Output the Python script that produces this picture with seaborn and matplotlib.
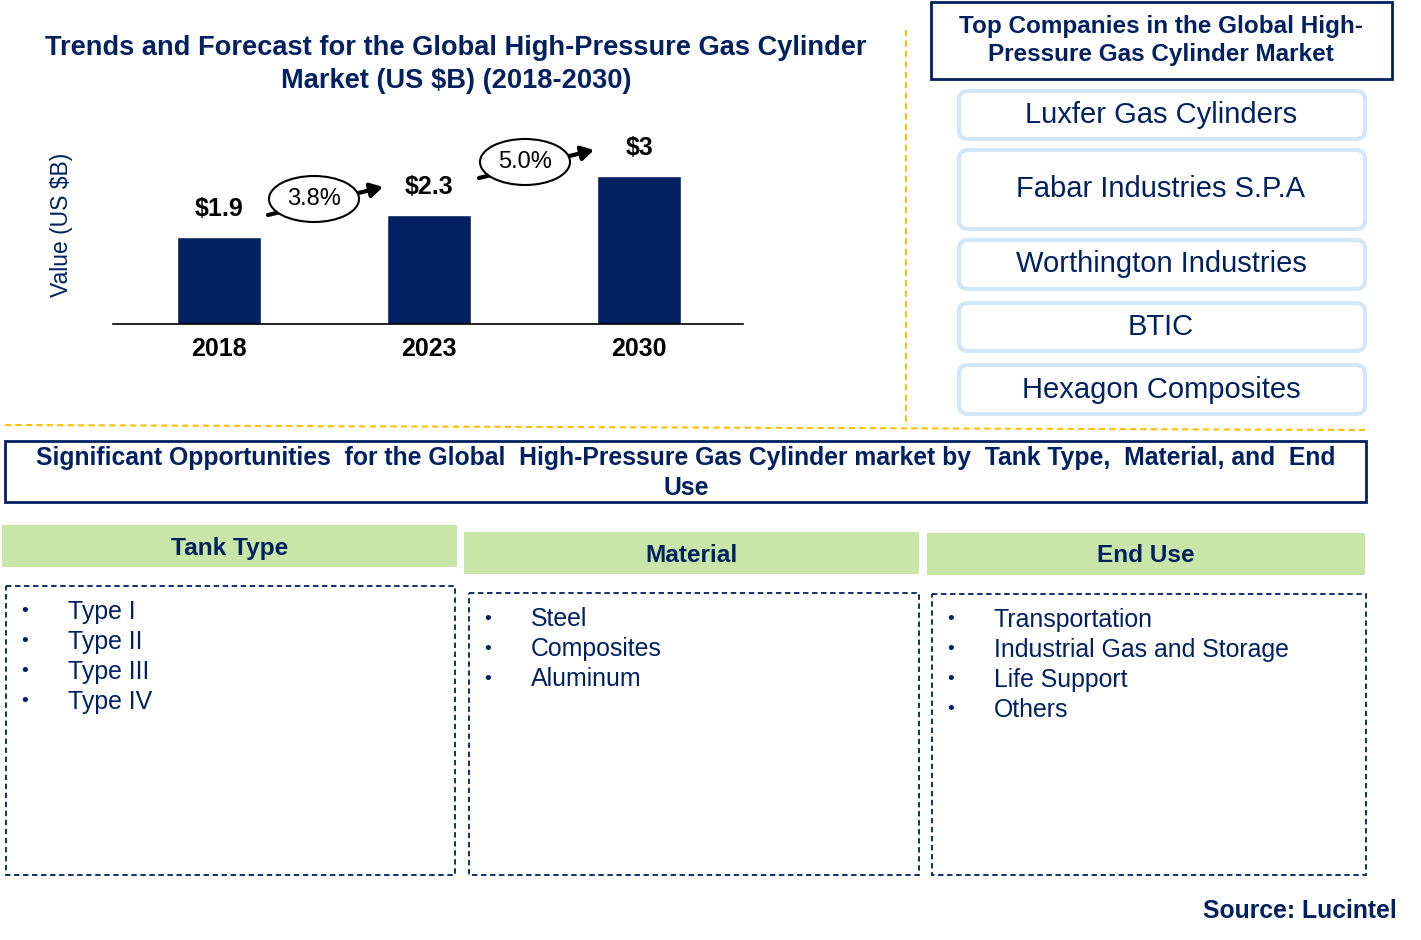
import matplotlib
matplotlib.use("Agg")
import matplotlib.pyplot as plt
import seaborn as sns
import pandas as pd
from matplotlib.patches import Rectangle, FancyBboxPatch, Ellipse

# ----- Data ----- #
years = ["2018", "2023", "2030"]
values = [1.9, 2.3, 3.0]
value_labels = ["$1.9", "$2.3", "$3"]
cagr_labels = ["3.8%", "5.0%"]

companies = ["Luxfer Gas Cylinders", "Fabar Industries S.P.A", "Worthington Industries",
             "BTIC", "Hexagon Composites"]
segment_titles = ["Tank Type", "Material", "End Use"]
tank_types = ["Type I", "Type II", "Type III", "Type IV"]
materials = ["Steel", "Composites", "Aluminum"]
end_uses = ["Transportation", "Industrial Gas and Storage", "Life Support", "Others"]

NAVY = "#002060"
BAR = "#002060"
GOLD = "#FFC000"
GREEN = "#C9E6A9"
LIGHTBLUE = "#D2E7F7"

sns.set_theme(style="white")
plt.rcParams["font.family"] = ["Liberation Sans", "DejaVu Sans"]

W, H = 1421, 940
fig = plt.figure(figsize=(W / 100, H / 100), dpi=100)

# ----- Bar chart ----- #
def px_axes(x0, y0, x1, y1):
    return [x0 / W, 1 - y1 / H, (x1 - x0) / W, (y1 - y0) / H]

ax = fig.add_axes(px_axes(113, 130, 743, 324))
df = pd.DataFrame({"Year": years, "Value": values})
sns.barplot(data=df, x="Year", y="Value", color=BAR, width=0.4, saturation=1, ax=ax)
ax.set_xlim(-0.505, 2.495)
ax.set_ylim(0.35, 3.82)
for s in ["top", "right", "left"]:
    ax.spines[s].set_visible(False)
ax.spines["bottom"].set_color("black")
ax.spines["bottom"].set_linewidth(1.2)
ax.set_yticks([])
ax.set_xlabel("")
ax.tick_params(axis="x", length=0, pad=9)
for lab in ax.get_xticklabels():
    lab.set_fontsize(18)
    lab.set_fontweight("bold")
    lab.set_color("black")
ax.set_ylabel("Value (US $B)", fontsize=16.5, color=NAVY)
ax.yaxis.set_label_coords(-0.063, 0.51)
for i, (v, lab) in enumerate(zip(values, value_labels)):
    ax.annotate(lab, (i, v), xytext=(0, 28), textcoords="offset pixels",
                ha="center", va="center", fontsize=18, fontweight="bold", color="black")

# ----- Overlay for the layout ----- #
ov = fig.add_axes([0, 0, 1, 1], zorder=5)
ov.set_xlim(0, W)
ov.set_ylim(H, 0)
ov.axis("off")

# title
ov.text(456, 48, "Trends and Forecast for the Global High-Pressure Gas Cylinder",
        ha="center", va="center", fontsize=19.6, fontweight="bold", color=NAVY)
ov.text(456, 81, "Market (US $B) (2018-2030)",
        ha="center", va="center", fontsize=19.6, fontweight="bold", color=NAVY)

# CAGR bubbles with arrows
bubbles = [((314, 199), (268, 215), (383, 187)), ((525, 162), (479, 178), (594, 150))]
for (c, p0, p1), txt in zip(bubbles, cagr_labels):
    ov.annotate("", xy=p1, xytext=p0,
                arrowprops=dict(arrowstyle="-|>,head_length=0.6,head_width=0.35",
                                color="black", lw=3, shrinkA=0, shrinkB=0))
    ov.add_patch(Ellipse(c, 90, 46, facecolor="white", edgecolor="black", lw=1.5, zorder=3))
    ov.text(c[0], c[1], txt, ha="center", va="center", fontsize=17, color="black", zorder=4)

# dashed separators
ov.plot([906, 906], [30, 424], color=GOLD, lw=1.5, ls=(0, (3, 2)))
ov.plot([5, 1365], [425, 430], color=GOLD, lw=1.5, ls=(0, (3, 2)))

# top companies header
ov.add_patch(Rectangle((931, 2), 461, 77, fill=False, edgecolor=NAVY, lw=2))
ov.text(1161, 26, "Top Companies in the Global High-", ha="center", va="center",
        fontsize=17.5, fontweight="bold", color=NAVY)
ov.text(1161, 55, "Pressure Gas Cylinder Market", ha="center", va="center",
        fontsize=17.5, fontweight="bold", color=NAVY)

company_rows = [(91, 139), (150, 229), (240, 289), (303, 351), (365, 414)]
for name, (y0, y1) in zip(companies, company_rows):
    ov.add_patch(FancyBboxPatch((959, y0), 406, y1 - y0,
                                boxstyle="round,pad=0,rounding_size=9",
                                facecolor="white", edgecolor=LIGHTBLUE, lw=3))
    ov.text(1161, (y0 + y1) / 2 if y1 - y0 < 60 else 189, name, ha="center", va="center",
            fontsize=21, color=NAVY)

# opportunities header
ov.add_patch(Rectangle((5, 441), 1361, 61, fill=False, edgecolor=NAVY, lw=2))
ov.text(686, 458, "Significant Opportunities  for the Global  High-Pressure Gas Cylinder market by  Tank Type,  Material, and  End",
        ha="center", va="center", fontsize=17.8, fontweight="bold", color=NAVY)
ov.text(686, 488, "Use", ha="center", va="center", fontsize=17.8, fontweight="bold", color=NAVY)

# segment columns
headers = [(2, 525, 455, 42), (464, 532, 455, 42), (927, 533, 438, 42)]
boxes = [(6, 586, 449, 289), (469, 593, 450, 282), (932, 594, 434, 281)]
items = [tank_types, materials, end_uses]
for title, (hx, hy, hw, hh), (bx, by, bw, bh), lst in zip(segment_titles, headers, boxes, items):
    ov.add_patch(Rectangle((hx, hy), hw, hh, facecolor=GREEN, edgecolor="none"))
    ov.text(hx + hw / 2, hy + hh / 2 + 2, title, ha="center", va="center",
            fontsize=17.6, fontweight="bold", color=NAVY)
    ov.add_patch(Rectangle((bx, by), bw, bh, fill=False, edgecolor=NAVY, lw=1.3, ls=(0, (3, 2))))
    for k, it in enumerate(lst):
        y = by + 26 + 30 * k
        ov.text(bx + 19, y, "\u2022", ha="center", va="center", fontsize=14, color=NAVY)
        ov.text(bx + 62, y, it, ha="left", va="center", fontsize=17.9, color=NAVY)

ov.text(1397, 911, "Source: Lucintel", ha="right", va="center",
        fontsize=17.8, fontweight="bold", color=NAVY)

fig.savefig("out.png", dpi=100)
